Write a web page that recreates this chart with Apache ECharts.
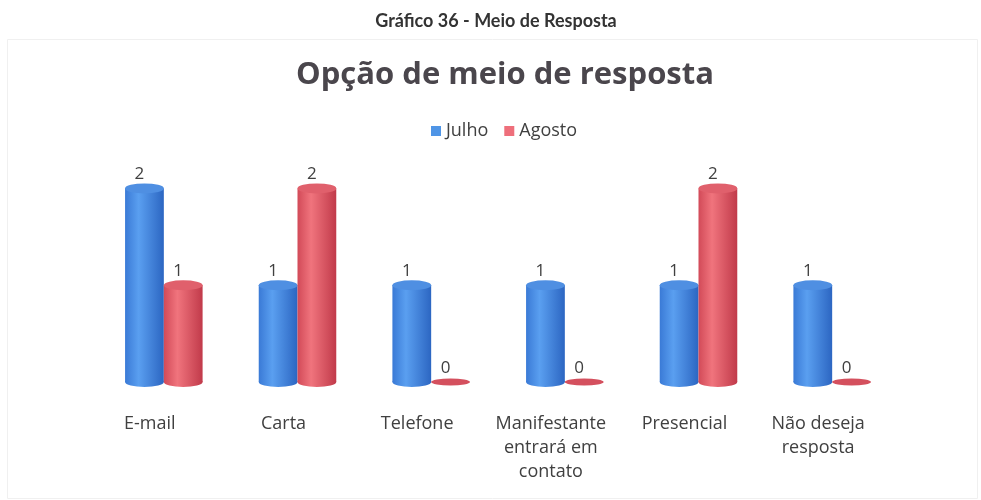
<!DOCTYPE html>
<html>
<head>
<meta charset="utf-8">
<script src="https://cdn.jsdelivr.net/npm/echarts@6/dist/echarts.min.js"></script>
<style>
html,body{margin:0;padding:0;background:#fff;}
#chart{width:981px;height:500px;}
</style>
</head>
<body>
<div id="chart"></div>
<script>
var categories = ['E-mail', 'Carta', 'Telefone', 'Manifestante\nentrará em\ncontato', 'Presencial', 'Não deseja\nresposta'];
var julho = [2, 1, 1, 1, 1, 1];
var agosto = [1, 2, 0, 0, 2, 0];
var seriesNames = ['Julho', 'Agosto'];

var chart = echarts.init(document.getElementById('chart'));

function grad(c) {
  return new echarts.graphic.LinearGradient(0, 0, 1, 0, [
    {offset: 0, color: c[0]},
    {offset: 0.35, color: c[1]},
    {offset: 1, color: c[2]}
  ]);
}

var palettes = [
  {body: ['#3a7ad6', '#5a9ff0', '#2c66c2'], top: '#4f8fe2', zero: '#3f7fda', legend: '#4f95e6'},
  {body: ['#d24a58', '#f0747d', '#c13a4a'], top: '#e0606c', zero: '#d4505e', legend: '#ee6f7b'}
];

function makeRender(side, pal) {
  return function (params, api) {
    var idx = api.value(0), val = api.value(1);
    var top = api.coord([idx, val]);
    var base = api.coord([idx, 0]);
    var band = api.size([1, 0])[0];
    var w = band * 0.29;
    var r = w / 2;
    var cx = top[0] + side * r;
    var ry = 5;
    var children = [];
    if (val > 0) {
      children.push({type: 'circle', x: cx, y: base[1], scaleY: ry / r,
        shape: {cx: 0, cy: 0, r: r}, style: {fill: grad(pal.body)}});
      children.push({type: 'rect', shape: {x: cx - r, y: top[1], width: w, height: base[1] - top[1]},
        style: {fill: grad(pal.body)}});
      children.push({type: 'circle', x: cx, y: top[1], scaleY: ry / r,
        shape: {cx: 0, cy: 0, r: r}, style: {fill: pal.top}});
    } else {
      children.push({type: 'circle', x: cx, y: base[1], scaleY: 3.5 / r,
        shape: {cx: 0, cy: 0, r: r}, style: {fill: pal.zero}});
    }
    children.push({type: 'text', x: cx - 5, y: top[1] - (val > 0 ? ry + 1 : 5),
      style: {text: String(val), align: 'center', verticalAlign: 'bottom',
        fontFamily: 'Open Sans', fontSize: 17, fill: '#404040'}});
    return {type: 'group', children: children};
  };
}

function toData(arr) { return arr.map(function (v, i) { return [i, v]; }); }

var option = {
  backgroundColor: '#ffffff',
  animation: false,
  title: [
    {text: 'Gráfico 36 - Meio de Resposta', left: 491, textAlign: 'center', top: 7,
      textStyle: {fontFamily: 'Lato', fontWeight: 'bold', fontSize: 18, color: '#333333'}},
    {text: 'Opção de meio de resposta', left: 500, textAlign: 'center', top: 55,
      textStyle: {fontFamily: 'Open Sans', fontWeight: 'bold', fontSize: 31, color: '#4a464c'}}
  ],
  legend: {
    top: 117, left: 426, icon: 'rect', itemWidth: 10, itemHeight: 10, itemGap: 16,
    textStyle: {fontFamily: 'Open Sans', fontSize: 18, color: '#404040'},
    data: seriesNames
  },
  graphic: [
    {type: 'rect', left: 5, top: 37, shape: {width: 970, height: 459},
      style: {fill: 'none', stroke: '#f0f0f0', lineWidth: 1}, silent: true}
  ],
  grid: {left: 97, right: 82, top: 140, bottom: 118},
  xAxis: {
    type: 'category', data: categories,
    axisLine: {show: false}, axisTick: {show: false},
    axisLabel: {margin: 30, lineHeight: 24, fontFamily: 'Open Sans', fontSize: 18, color: '#404040',
      interval: 0, padding: [0, 28, 0, 0]}
  },
  yAxis: {type: 'value', min: 0, max: 2.5, show: false, splitLine: {show: false}},
  series: [
    {name: seriesNames[0], type: 'custom', renderItem: makeRender(-1, palettes[0]),
      itemStyle: {color: palettes[0].legend}, encode: {x: 0, y: 1}, data: toData(julho)},
    {name: seriesNames[1], type: 'custom', renderItem: makeRender(1, palettes[1]),
      itemStyle: {color: palettes[1].legend}, encode: {x: 0, y: 1}, data: toData(agosto)}
  ]
};
chart.setOption(option);
</script>
</body>
</html>
